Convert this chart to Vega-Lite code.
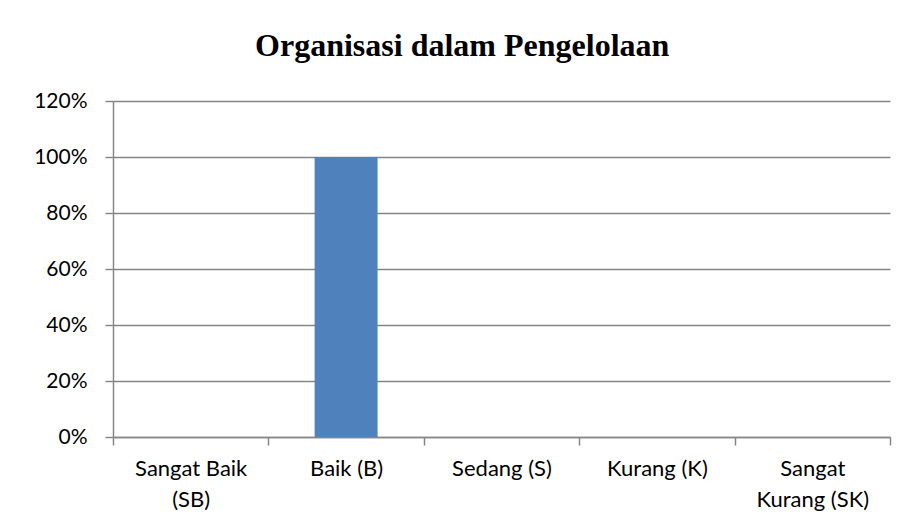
{
  "$schema": "https://vega.github.io/schema/vega-lite/v6.json",
  "autosize": "none",
  "width": 777,
  "height": 336,
  "padding": {"left": 113, "top": 101, "right": 20, "bottom": 94},
  "background": "white",
  "title": {
    "text": "Organisasi dalam Pengelolaan",
    "font": "Liberation Serif",
    "fontSize": 32,
    "fontWeight": "bold",
    "color": "#000000",
    "anchor": "middle",
    "frame": "bounds",
    "baseline": "alphabetic",
    "offset": 2
  },
  "data": {
    "values": [
      {"kategori": "Sangat Baik (SB)", "persen": 0},
      {"kategori": "Baik (B)", "persen": 1},
      {"kategori": "Sedang (S)", "persen": 0},
      {"kategori": "Kurang (K)", "persen": 0},
      {"kategori": "Sangat Kurang (SK)", "persen": 0}
    ]
  },
  "mark": {"type": "bar", "color": "#4F81BD", "width": {"band": 0.405}},
  "encoding": {
    "x": {
      "field": "kategori",
      "type": "nominal",
      "sort": null,
      "title": null,
      "scale": {"paddingInner": 0, "paddingOuter": 0},
      "axis": {
        "labelAngle": 0,
        "tickBand": "extent",
        "tickSize": 8,
        "tickColor": "#868686",
        "tickWidth": 1.5,
        "domainColor": "#868686",
        "domainWidth": 1.5,
        "labelFont": "Lato",
        "labelFontSize": 22,
        "labelColor": "#000000",
        "labelPadding": 13,
        "labelLineHeight": 31,
        "labelBaseline": "top",
        "labelExpr": "datum.value == 'Sangat Baik (SB)' ? ['Sangat Baik', '(SB)'] : datum.value == 'Sangat Kurang (SK)' ? ['Sangat', 'Kurang (SK)'] : datum.label"
      }
    },
    "y": {
      "field": "persen",
      "type": "quantitative",
      "title": null,
      "scale": {"domain": [0, 1.2], "nice": false},
      "axis": {
        "values": [0, 0.2, 0.4, 0.6, 0.8, 1.0, 1.2],
        "format": ".0%",
        "tickSize": 8,
        "tickColor": "#868686",
        "tickWidth": 1.5,
        "domainColor": "#868686",
        "domainWidth": 1.5,
        "gridColor": "#868686",
        "gridWidth": 1.5,
        "labelFont": "Lato",
        "labelFontSize": 21,
        "labelColor": "#000000",
        "labelPadding": 18
      }
    }
  },
  "config": {"view": {"stroke": null}}
}
